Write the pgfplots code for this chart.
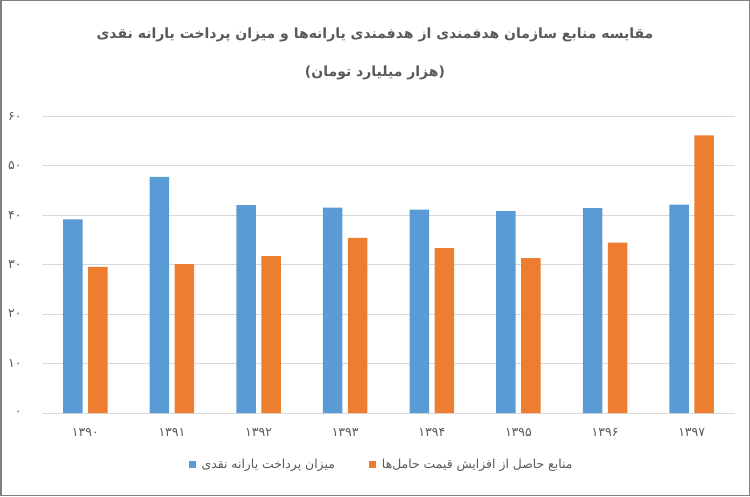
\documentclass[border=0pt]{standalone}
\usepackage{pgfplots}
\pgfplotsset{compat=1.18}
\usepackage{fontspec}
\setmainfont{DejaVu Sans}
\newfontfamily\arabicfont[Script=Arabic]{DejaVu Sans}
\TeXXeTstate=1
\definecolor{cblue}{HTML}{5B9BD5}
\definecolor{corange}{HTML}{ED7D31}
\definecolor{tgray}{HTML}{595959}
\definecolor{ggray}{HTML}{D9D9D9}
\begin{document}
\begin{tikzpicture}[x=1pt,y=1pt]
\useasboundingbox (0,0) rectangle (750,496);
\draw[black!50, line width=1.5pt] (0.75,0.75) rectangle (749.25,495.25);
\node[text=tgray, font=\arabicfont\bfseries\fontsize{14}{16}\selectfont] at (375,461) {\beginR مقایسه منابع سازمان هدفمندی از هدفمندی یارانه‌ها و میزان پرداخت یارانه نقدی\endR};
\node[text=tgray, font=\arabicfont\bfseries\fontsize{14}{16}\selectfont] at (375,423) {)\beginR هزار میلیارد تومان\endR(};
\begin{axis}[
  at={(42pt,83pt)}, anchor=south west, scale only axis,
  width=693pt, height=297pt,
  ymin=0, ymax=60, xmin=-0.5, xmax=7.5,
  ybar=5.6pt, bar width=19.4pt,
  separate axis lines,
  axis x line*=bottom, axis y line*=left,
  y axis line style={draw=none},
  x axis line style={ggray, line width=1pt, -},
  ytick={0,10,20,30,40,50,60},
  yticklabels={۰,۱۰,۲۰,۳۰,۴۰,۵۰,۶۰},
  ymajorgrids, grid style={ggray, line width=1pt},
  major tick length=0pt,
  xtick={0,1,2,3,4,5,6,7},
  xticklabels={۱۳۹۰,۱۳۹۱,۱۳۹۲,۱۳۹۳,۱۳۹۴,۱۳۹۵,۱۳۹۶,۱۳۹۷},
  tick label style={font=\arabicfont\fontsize{12.5}{14}\selectfont, text=tgray},
  yticklabel style={xshift=-17pt},
  xticklabel style={yshift=-12pt},
  legend style={at={(0.4899,-0.175)}, anchor=center, draw=none, fill=none,
    font=\arabicfont\fontsize{12.4}{14}\selectfont, text=tgray,
    /tikz/every even column/.append style={column sep=32pt}},
  legend columns=2,
  legend image code/.code={\fill[#1] (0pt,-3.5pt) rectangle (7pt,3.5pt);},
]
\addplot[fill=cblue, draw=none] coordinates {(0,39.1) (1,47.7) (2,42.0) (3,41.5) (4,41.1) (5,40.8) (6,41.4) (7,42.1)};
\addlegendentry{\hspace*{4pt}\beginR میزان پرداخت یارانه نقدی\endR}
\addplot[fill=corange, draw=none] coordinates {(0,29.5) (1,30.1) (2,31.7) (3,35.4) (4,33.3) (5,31.3) (6,34.4) (7,56.1)};
\addlegendentry{\hspace*{4pt}\beginR منابع حاصل از افزایش قیمت حامل‌ها\endR}
\end{axis}
\end{tikzpicture}
\end{document}
